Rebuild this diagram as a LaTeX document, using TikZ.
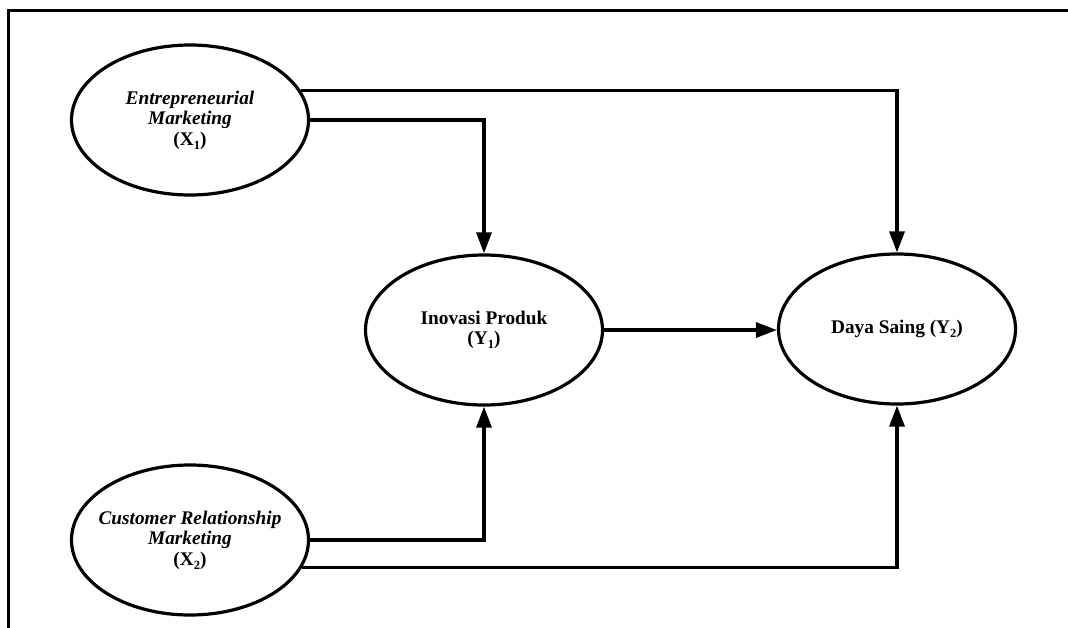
\documentclass[tikz,border=0pt]{standalone}
\usepackage{fontspec}
\setmainfont{Liberation Serif}
\usetikzlibrary{shapes.geometric,arrows.meta}
\newcommand{\lowidx}[1]{\raisebox{-0.45ex}{\fontsize{12.5}{12.5}\selectfont #1}}
\begin{document}
\begin{tikzpicture}[x=1pt,y=-1pt,
  var/.style={ellipse,draw,line width=3.2pt,minimum width=237pt,minimum height=150pt,inner xsep=-25pt,inner ysep=0pt,align=center,font=\fontsize{19.3}{20.5}\selectfont\bfseries},
  arr/.style={line width=3.2pt,-{Triangle[length=21pt,width=15pt]}},
  framestyle/.style={line width=3pt}]
\useasboundingbox (0,0) rectangle (1068,627);
\coordinate (fbl) at (8,640);
\coordinate (ftl) at (8,10);
\coordinate (ftr) at (1080,10);
\draw[framestyle] (fbl) -- (ftl) -- (ftr);
\node[var] (e1) at (190,120) {\textit{Entrepreneurial}\\\textit{Marketing}\\(X\lowidx{1})};
\node[var] (e2) at (190,540) {\textit{Customer Relationship}\\\textit{Marketing}\\(X\lowidx{2})};
\node[var] (e3) at (484,330) {Inovasi Produk\\(Y\lowidx{1})};
\node[var] (e4) at (897,329) {Daya Saing (Y\lowidx{2})};
\draw[arr] (e1.15.5) -| (e4.north);
\draw[arr] (e1.east) -| (e3.north);
\draw[arr] (e3.east) -- (e4.west |- e3.east);
\draw[arr] (e2.east) -| (e3.south);
\draw[arr] (e2.-14.3) -| (e4.south);
\end{tikzpicture}
\end{document}
